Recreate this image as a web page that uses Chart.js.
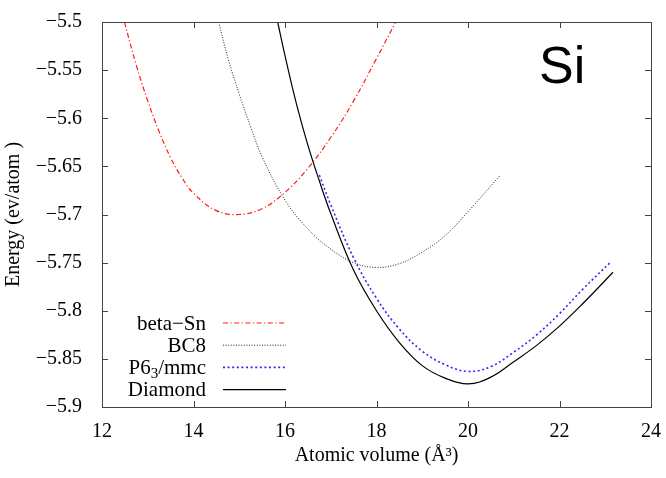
<!DOCTYPE html>
<html><head><meta charset="utf-8">
<script src="https://cdn.jsdelivr.net/npm/chart.js@4/dist/chart.umd.min.js"></script>
<style>html,body{margin:0;padding:0;background:#fff}#wrap{width:666px;height:478px}</style>
</head><body><div id="wrap"><canvas id="c" width="666" height="478"></canvas></div>
<script>
const xTicks = [12, 14, 16, 18, 20, 22, 24];
const xTickLabels = ['12', '14', '16', '18', '20', '22', '24'];
const yTicks = [-5.9, -5.85, -5.8, -5.75, -5.7, -5.65, -5.6, -5.55, -5.5];
const yTickLabels = ['−5.9', '−5.85', '−5.8', '−5.75', '−5.7', '−5.65', '−5.6', '−5.55', '−5.5'];
const seriesNames = ['beta−Sn', 'BC8', 'P6₃/mmc', 'Diamond'];

const betaSnV = [12.49, 12.75, 13.0, 13.25, 13.5, 13.75, 14.0, 14.5, 15.0, 15.5, 16.0, 16.5, 17.0, 17.5, 18.0, 18.42];
const betaSnE = [-5.5, -5.545, -5.582, -5.614, -5.641, -5.662, -5.678, -5.696, -5.700, -5.694, -5.677, -5.652, -5.620, -5.582, -5.538, -5.5];

const bc8V = [14.55, 14.75, 15.0, 15.25, 15.5, 16.0, 16.5, 17.0, 17.5, 18.0, 18.5, 19.0, 19.5, 20.0, 20.69];
const bc8E = [-5.5, -5.537, -5.575, -5.609, -5.640, -5.685, -5.715, -5.736, -5.750, -5.755, -5.751, -5.739, -5.722, -5.697, -5.660];

const p63V = [16.75, 17.0, 17.5, 18.0, 18.5, 19.0, 19.5, 20.0, 20.5, 21.0, 21.5, 22.0, 22.5, 23.13];
const p63E = [-5.659, -5.690, -5.745, -5.787, -5.819, -5.842, -5.856, -5.863, -5.858, -5.843, -5.825, -5.803, -5.778, -5.749];

const diamondV = [15.84, 16.0, 16.25, 16.5, 16.75, 17.0, 17.5, 18.0, 18.5, 19.0, 19.5, 20.0, 20.5, 21.0, 21.5, 22.0, 22.5, 23.17];
const diamondE = [-5.5, -5.535, -5.585, -5.628, -5.665, -5.699, -5.758, -5.800, -5.833, -5.857, -5.870, -5.876, -5.869, -5.853, -5.836, -5.816, -5.793, -5.760];

function pts(xs, ys) { return xs.map((x, i) => ({ x: x, y: ys[i] })); }

const serif = '"Liberation Serif", "DejaVu Serif", serif';

const framePlugin = {
  id: 'frame',
  afterDatasetsDraw(chart) {
    const ctx = chart.ctx;
    const a = chart.chartArea;
    const xs = chart.scales.x, ys = chart.scales.y;
    ctx.save();
    ctx.strokeStyle = '#444';
    ctx.lineWidth = 1;
    ctx.strokeRect(Math.round(a.left) + 0.5, Math.round(a.top) + 0.5, Math.round(a.right - a.left), Math.round(a.bottom - a.top));
    const L = 6;
    ctx.beginPath();
    xTicks.forEach(v => {
      const px = Math.round(xs.getPixelForValue(v)) + 0.5;
      ctx.moveTo(px, a.bottom); ctx.lineTo(px, a.bottom - L);
      ctx.moveTo(px, a.top); ctx.lineTo(px, a.top + L);
    });
    yTicks.forEach(v => {
      const py = Math.round(ys.getPixelForValue(v)) + 0.5;
      ctx.moveTo(a.left, py); ctx.lineTo(a.left + L, py);
      ctx.moveTo(a.right, py); ctx.lineTo(a.right - L, py);
    });
    ctx.stroke();

    // "Si" label
    ctx.fillStyle = '#000';
    ctx.font = '52px "Liberation Sans", Arial, sans-serif';
    ctx.textAlign = 'left';
    ctx.textBaseline = 'alphabetic';
    ctx.fillText('Si', 539, 83);

    // legend
    const textRight = 206, lineL = 223, lineR = 286;
    const y0 = 323, dy = 22.2;
    ctx.font = '21px ' + serif;
    chart.data.datasets.forEach((ds, i) => {
      const y = y0 + i * dy;
      const label = ds.label;
      ctx.fillStyle = '#000';
      ctx.textBaseline = 'middle';
      if (label.indexOf('₃') >= 0) {
        const parts = label.split('₃');
        const big = '21px ' + serif, small = '15px ' + serif;
        ctx.font = big; const w1 = ctx.measureText(parts[0]).width; const w3 = ctx.measureText(parts[1]).width;
        ctx.font = small; const w2 = ctx.measureText('3').width;
        let x = textRight - (w1 + w2 + w3);
        ctx.textAlign = 'left';
        ctx.font = big; ctx.fillText(parts[0], x, y + 1); x += w1;
        ctx.font = small; ctx.fillText('3', x, y + 7); x += w2;
        ctx.font = big; ctx.fillText(parts[1], x, y + 1);
      } else {
        ctx.textAlign = 'right';
        ctx.fillText(label, textRight, y + 1);
      }
      ctx.strokeStyle = ds.borderColor;
      ctx.lineWidth = ds.borderWidth;
      ctx.setLineDash(ds.borderDash || []);
      ctx.beginPath();
      ctx.moveTo(lineL, y); ctx.lineTo(lineR, y);
      ctx.stroke();
      ctx.setLineDash([]);
    });
    ctx.restore();
  }
};

new Chart(document.getElementById('c'), {
  type: 'scatter',
  data: {
    datasets: [
      { label: seriesNames[0], data: pts(betaSnV, betaSnE), borderColor: '#ff1a1a', borderWidth: 1.2, borderDash: [5, 2.5, 1.2, 2.5] },
      { label: seriesNames[1], data: pts(bc8V, bc8E), borderColor: '#222', borderWidth: 1, borderDash: [1, 1.6] },
      { label: seriesNames[2], data: pts(p63V, p63E), borderColor: '#2a2aff', borderWidth: 1.6, borderDash: [2, 2.6] },
      { label: seriesNames[3], data: pts(diamondV, diamondE), borderColor: '#000', borderWidth: 1.2 }
    ].map(d => Object.assign(d, { showLine: true, pointRadius: 0, pointHoverRadius: 0, fill: false, tension: 0.4, backgroundColor: d.borderColor }))
  },
  options: {
    responsive: false,
    animation: false,
    devicePixelRatio: 1,
    layout: { padding: { top: 11, right: 14, left: 0, bottom: 0 } },
    plugins: { legend: { display: false }, tooltip: { enabled: false }, title: { display: false } },
    scales: {
      x: {
        type: 'linear', min: 12, max: 24,
        afterBuildTicks: s => { s.ticks = xTicks.map(v => ({ value: v })); },
        afterFit: s => { s.height = 71; },
        grid: { display: false }, border: { display: false },
        ticks: { color: '#000', font: { family: serif, size: 20 }, padding: 5, maxRotation: 0,
          callback: (v) => xTickLabels[xTicks.indexOf(v)] },
        title: { display: true, text: 'Atomic volume (Å³)', color: '#000', font: { family: serif, size: 20 }, padding: { top: 0, bottom: 10 } }
      },
      y: {
        type: 'linear', min: -5.9, max: -5.5,
        afterBuildTicks: s => { s.ticks = yTicks.map(v => ({ value: v })); },
        afterFit: s => { s.width = 102; },
        grid: { display: false }, border: { display: false },
        ticks: { color: '#000', font: { family: serif, size: 20, lineHeight: 1 }, padding: 12,
          callback: (v) => { const i = yTicks.findIndex(t => Math.abs(t - v) < 1e-9); return i >= 0 ? yTickLabels[i] : ''; } },
        title: { display: true, text: 'Energy (ev/atom )', color: '#000', font: { family: serif, size: 20 }, padding: { top: 2, bottom: 0 } }
      }
    }
  },
  plugins: [framePlugin]
});
</script>
</body></html>
